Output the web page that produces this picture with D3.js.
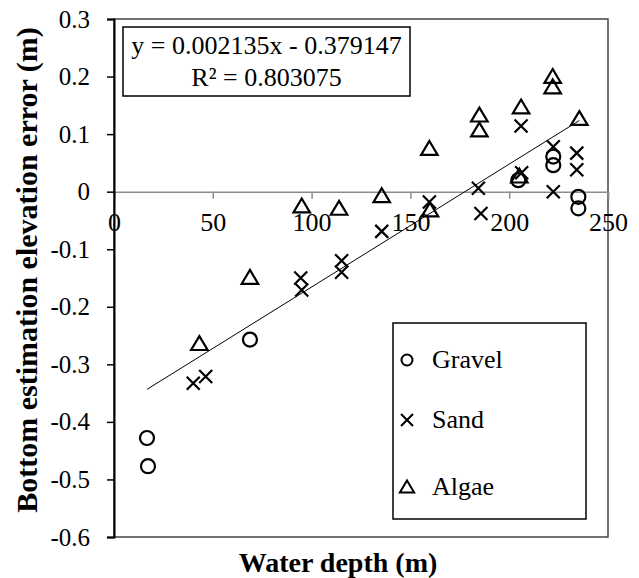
<!DOCTYPE html>
<meta charset="utf-8">
<head>
  <title>Bottom estimation error vs water depth</title>
</head>
<style>
body { margin: 0; background: #fff; }
</style>
<body>
<script src="https://d3js.org/d3.v7.min.js"></script>
<script>

// depth (m), error (m)
var gravel = [[16.7, -0.428], [17.2, -0.477], [68.8, -0.257], [204.6, 0.020],
              [222.3, 0.061], [222.3, 0.046], [235, -0.009], [235, -0.029]];
var sand = [[40.1, -0.333], [46.4, -0.321], [94.5, -0.150], [95, -0.171],
            [115.2, -0.120], [115.2, -0.140], [135.5, -0.069], [159.6, -0.018],
            [184.4, 0.006], [185.7, -0.038], [206, 0.114], [206.3, 0.033],
            [222.3, 0.078], [222.3, 0.0], [234.2, 0.067], [234.2, 0.038]];
var algae = [[43.2, -0.264], [68.8, -0.149], [95, -0.025], [113.9, -0.029],
             [135.5, -0.007], [159.9, -0.032], [159.6, 0.075], [184.9, 0.133],
             [184.9, 0.107], [206, 0.147], [205.1, 0.027], [222, 0.200],
             [222, 0.182], [235.5, 0.127]];

var slope = 0.002135, intercept = -0.379147;
var eqLines = ["y = 0.002135x - 0.379147", "R\u00b2 = 0.803075"];
var legendNames = ["Gravel", "Sand", "Algae"];

var xTicks = [0, 50, 100, 150, 200, 250];
var yTicks = [-0.6, -0.5, -0.4, -0.3, -0.2, -0.1, 0, 0.1, 0.2, 0.3];

var serif = "'Liberation Serif', 'Times New Roman', serif";
var w = 639, h = 578;
var margin = {top: 19, right: 31, bottom: 41, left: 114};

var svg = d3.select("body").append("svg")
  .attr("width", w)
  .attr("height", h)
  .style("font-family", serif);

var x = d3.scaleLinear().domain([0, 250]).range([margin.left, w - margin.right]);
var y = d3.scaleLinear().domain([-0.6, 0.3]).range([h - margin.bottom, margin.top]);

var fmt = function(d) {
  if (Math.abs(d) < 1e-9) return "0";
  return d3.format(".1f")(d).replace("\u2212", "-");
};

// plot frame (top and right)
svg.append("rect")
  .attr("x", x(0)).attr("y", y(0.3))
  .attr("width", x(250) - x(0)).attr("height", y(-0.6) - y(0.3))
  .attr("fill", "none").attr("stroke", "#444").attr("stroke-width", 1.5);

// x axis on the zero line
var gx = svg.append("g")
  .attr("transform", "translate(0," + y(0) + ")")
  .call(d3.axisBottom(x).tickValues(xTicks).tickSize(7).tickPadding(14).tickFormat(d3.format("d")));
gx.attr("font-family", serif).attr("font-size", 26);
gx.select(".domain").attr("stroke", "#8c8c8c").attr("stroke-width", 1.5);
gx.selectAll(".tick line").attr("stroke", "#8c8c8c").attr("stroke-width", 1.5);
gx.selectAll("text").attr("fill", "#000");

// y axis
var gy = svg.append("g")
  .attr("transform", "translate(" + x(0) + ",0)")
  .call(d3.axisLeft(y).tickValues(yTicks).tickSize(7).tickPadding(17).tickFormat(fmt));
gy.attr("font-family", serif).attr("font-size", 25);
gy.select(".domain").attr("stroke", "#000").attr("stroke-width", 2);
gy.selectAll(".tick line").attr("stroke", "#000").attr("stroke-width", 1.5);
gy.selectAll("text").attr("fill", "#000");

// axis titles
svg.append("text")
  .attr("x", 338).attr("y", 572)
  .attr("text-anchor", "middle")
  .style("font-size", "28px").style("font-weight", "bold")
  .text("Water depth (m)");

svg.append("text")
  .attr("transform", "translate(37,270) rotate(-90)")
  .attr("text-anchor", "middle")
  .style("font-size", "30px").style("font-weight", "bold")
  .text("Bottom estimation elevation error (m)");

// trend line
var all = gravel.concat(sand, algae);
var xr = d3.extent(all, function(d) { return d[0]; });
svg.append("line")
  .attr("x1", x(xr[0])).attr("y1", y(slope * xr[0] + intercept))
  .attr("x2", x(xr[1])).attr("y2", y(slope * xr[1] + intercept))
  .attr("stroke", "#000").attr("stroke-width", 1);

// markers
function circleMark(g, cx, cy, r, sw) {
  g.append("circle").attr("cx", cx).attr("cy", cy).attr("r", r)
    .attr("fill", "none").attr("stroke", "#000").attr("stroke-width", sw);
}
function crossMark(g, cx, cy, s, sw) {
  g.append("path")
    .attr("d", "M" + (cx - s) + "," + (cy - s) + "L" + (cx + s) + "," + (cy + s) +
               "M" + (cx - s) + "," + (cy + s) + "L" + (cx + s) + "," + (cy - s))
    .attr("stroke", "#000").attr("stroke-width", sw).attr("fill", "none");
}
function triMark(g, cx, cy, s, sw) {
  g.append("path")
    .attr("d", "M" + cx + "," + (cy - s) + "L" + (cx + s * 1.1) + "," + (cy + s * 0.85) +
               "L" + (cx - s * 1.1) + "," + (cy + s * 0.85) + "Z")
    .attr("stroke", "#000").attr("stroke-width", sw).attr("fill", "none")
    .attr("stroke-linejoin", "miter");
}

var pts = svg.append("g");
gravel.forEach(function(d) { circleMark(pts, x(d[0]), y(d[1]), 7, 2.2); });
sand.forEach(function(d) { crossMark(pts, x(d[0]), y(d[1]), 6.5, 2.2); });
algae.forEach(function(d) { triMark(pts, x(d[0]), y(d[1]), 7.5, 2.2); });

// equation box
var eq = svg.append("g");
eq.append("rect")
  .attr("x", 123).attr("y", 27).attr("width", 287).attr("height", 69)
  .attr("fill", "#fff").attr("stroke", "#000").attr("stroke-width", 1.5);
eq.selectAll("text.eq").data(eqLines).enter().append("text")
  .attr("class", "eq")
  .attr("x", 266.5).attr("y", function(d, i) { return 54 + i * 32; })
  .attr("text-anchor", "middle")
  .style("font-size", "26px")
  .text(function(d) { return d; });

// legend
var lg = svg.append("g");
lg.append("rect")
  .attr("x", 393).attr("y", 323).attr("width", 193).attr("height", 196)
  .attr("fill", "#fff").attr("stroke", "#000").attr("stroke-width", 1.5);
var ly = [360, 420, 487];
circleMark(lg, 407, ly[0], 5.5, 2);
crossMark(lg, 407, ly[1], 6, 2);
triMark(lg, 407, ly[2], 6.5, 2);
lg.selectAll("text.lg").data(legendNames).enter().append("text")
  .attr("class", "lg")
  .attr("x", 432).attr("y", function(d, i) { return ly[i] + 8; })
  .style("font-size", "26px")
  .text(function(d) { return d; });

</script>
</body>
</html>
